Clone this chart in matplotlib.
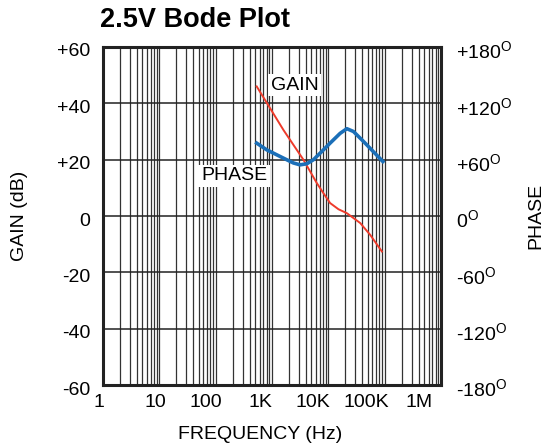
import numpy as np
import matplotlib.pyplot as plt
import matplotlib.transforms as mtransforms
from matplotlib.ticker import FixedLocator, NullFormatter

plt.rcParams['font.family'] = ['Liberation Sans', 'DejaVu Sans']
plt.rcParams['mathtext.fontset'] = 'custom'
plt.rcParams['mathtext.rm'] = 'Liberation Sans'

# data
gain_freq = [535, 923, 1589, 2393, 3606, 6237, 8185, 10740, 15136, 21330, 36810, 55340, 89330]
gain_db = [46.0, 38.3, 30.6, 25.3, 20.0, 11.7, 8.1, 4.6, 2.4, 1.0, -2.5, -6.7, -12.6]

phase_freq = [535, 805, 1589, 2393, 3148, 4140, 5433, 7656, 10740, 16180, 21330, 27930, 42070, 93110]
phase_deg = [77.6, 70.5, 61.7, 56.5, 54.5, 55.6, 59.9, 68.7, 77.6, 88.0, 93.0, 90.0, 79.4, 58.0]

x_ticks = [1, 10, 100, 1e3, 1e4, 1e5, 1e6]
x_labels = ['1', '10', '100', '1K', '10K', '100K', '1M']
gain_ticks = [-60, -40, -20, 0, 20, 40, 60]
gain_labels = ['-60', '-40', '-20', '0', '+20', '+40', '+60']
phase_ticks = [-180, -120, -60, 0, 60, 120, 180]
phase_labels = [r'-180$^{\mathrm{O}}$', r'-120$^{\mathrm{O}}$', r'-60$^{\mathrm{O}}$',
                r'0$^{\mathrm{O}}$', r'+60$^{\mathrm{O}}$', r'+120$^{\mathrm{O}}$',
                r'+180$^{\mathrm{O}}$']

fs = 14

fig = plt.figure(figsize=(5.48, 4.44), dpi=100)
ax = fig.add_axes([103 / 548, 1 - 385 / 444, 338 / 548, 338 / 444])

ax.set_xscale('log')
ax.set_xlim(1, 1e6)
ax.set_ylim(-60, 60)

minors = [m * 10 ** d for d in range(6) for m in range(2, 10)]
ax.xaxis.set_major_locator(FixedLocator(x_ticks))
ax.xaxis.set_minor_locator(FixedLocator(minors))
ax.xaxis.set_minor_formatter(NullFormatter())
ax.set_xticklabels(x_labels)
ax.set_yticks(gain_ticks)
ax.set_yticklabels(gain_labels)
ax.tick_params(which='both', length=0, labelsize=fs)
ax.tick_params(axis='x', pad=6.5)
ax.tick_params(axis='y', pad=9)

ax.grid(True, which='both', axis='x', color='#333333', lw=0.9)
ax.grid(True, which='major', axis='y', color='#222222', lw=1.1)
for s in ax.spines.values():
    s.set_linewidth(2.2)
    s.set_color('#222222')

ax2 = ax.twinx()
ax2.set_ylim(-180, 180)
ax2.set_yticks(phase_ticks)
ax2.set_yticklabels(phase_labels)
ax2.tick_params(length=0, labelsize=fs, pad=11)
for s in ax2.spines.values():
    s.set_visible(False)

# the original's frequency labels drift left of their gridlines
x_shift = [-4, -4, -10, -12, -15, -18, -22]
for lab, dx in zip(ax.get_xticklabels(), x_shift):
    lab.set_transform(lab.get_transform() +
                      mtransforms.ScaledTranslation(dx / 100, 0, fig.dpi_scale_trans))
for lab in ax.get_yticklabels() + ax2.get_yticklabels():
    lab.set_transform(lab.get_transform() +
                      mtransforms.ScaledTranslation(0, -3 / 100, fig.dpi_scale_trans))

ax.plot(gain_freq, gain_db, color='#ee3b2b', lw=1.4, zorder=5)
ax2.plot(phase_freq, phase_deg, color='#1b6fb8', lw=2.6, zorder=5,
         solid_joinstyle='round')

ax.text(271 / 548, 1 - 85 / 444, 'GAIN', transform=fig.transFigure, fontsize=fs,
        va='center', ha='left', zorder=6,
        bbox=dict(facecolor='white', edgecolor='none', pad=2))
ax.text(201 / 548, 1 - 176 / 444, 'PHASE', transform=fig.transFigure, fontsize=fs,
        va='center', ha='left', zorder=6,
        bbox=dict(facecolor='white', edgecolor='none', pad=2))

fig.text(260 / 548, 1 - 434 / 444, 'FREQUENCY (Hz)', fontsize=fs, ha='center', va='center')
fig.text(20 / 548, 1 - 216 / 444, 'GAIN (dB)', fontsize=fs, ha='center', va='center',
         rotation=90)
fig.text(536 / 548, 1 - 216 / 444, 'PHASE', fontsize=fs, ha='center', va='center',
         rotation=90)

fig.text(100 / 548, 1 - 20 / 444, '2.5V Bode Plot', fontsize=19.5, fontweight='bold',
         va='center', ha='left')

fig.savefig('out.png', dpi=100)
